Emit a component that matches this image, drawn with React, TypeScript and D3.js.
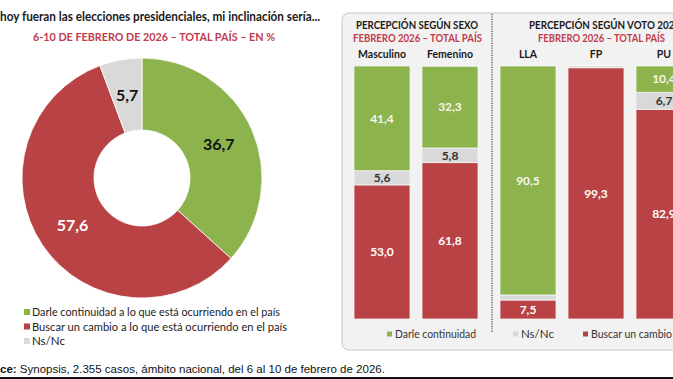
import React from "react";
import * as d3 from "d3";

const W = 673;
const H = 379;

const donutCategories = ["Darle continuidad a lo que está ocurriendo en el país", "Buscar un cambio a lo que está ocurriendo en el país", "Ns/Nc"];
const donutValues = [36.7, 57.6, 5.7];

const sexGroups = ["Masculino", "Femenino"];
const voteGroups = ["LLA", "FP", "PU"];
const seriesKeys = ["cambio", "nsnc", "continuidad"];
const continuidad = { Masculino: 41.4, Femenino: 32.3, LLA: 90.5, FP: 0, PU: 10.4 };
const nsnc = { Masculino: 5.6, Femenino: 5.8, LLA: 2.0, FP: 0.7, PU: 6.7 };
const cambio = { Masculino: 53.0, Femenino: 61.8, LLA: 7.5, FP: 99.3, PU: 82.9 };
const barLegend = ["Darle continuidad", "Ns/Nc", "Buscar un cambio"];

const GREEN = "#8db34d";
const RED = "#b94245";
const GRAY = "#d9d9d9";
const TITLE_RED = "#c23b4e";
const FONT = "Lato, 'Open Sans', sans-serif";

const colorOf: Record<string, string> = { continuidad: GREEN, nsnc: GRAY, cambio: RED };
const labelColorOf: Record<string, string> = { continuidad: "#f6f6ee", nsnc: "#333", cambio: "#fff" };

const fmt = (v: number) => v.toFixed(1).replace(".", ",");

export default function App() {
  const cx = 142, cy = 178, rIn = 48, rOut = 120;
  const pie = d3.pie<number>().sort(null).value((d) => d);
  const arcs = pie(donutValues);
  const arc = d3.arc<d3.PieArcDatum<number>>().innerRadius(rIn).outerRadius(rOut);
  const donutColors = [GREEN, RED, GRAY];
  const donutLabelColors = ["#111", "#fff", "#111"];
  const legendLens: (number | undefined)[] = [248, 255, undefined];

  const y = d3.scaleLinear().domain([0, 100]).range([319, 66]);
  const xSex = d3.scaleBand<string>().domain(sexGroups).range([348, 484]).paddingInner(12 / 68).paddingOuter(6 / 68);
  const xVote = d3.scaleBand<string>().domain(voteGroups).range([494, 698]).paddingInner(12 / 68).paddingOuter(6 / 68);

  const rows = [...sexGroups, ...voteGroups].map((g) => ({
    group: g,
    cambio: (cambio as any)[g],
    nsnc: (nsnc as any)[g],
    continuidad: (continuidad as any)[g],
  }));
  const stack = d3.stack<any>().keys(seriesKeys);
  const stacked = stack(rows);
  const xOf = (g: string) => (sexGroups.includes(g) ? xSex(g)! : xVote(g)!);
  const bw = xSex.bandwidth();

  return (
    <svg width={W} height={H} style={{ position: "absolute", left: 0, top: 0, background: "#fff" }} fontFamily={FONT}>
      <rect x={0} y={0} width={W} height={H} fill="#fff" />
      {/* Left title */}
      <text x={0} y={21} fontSize={12.5} fontWeight={700} fill="#1a1a1a" textLength={320} lengthAdjust="spacingAndGlyphs">hoy fueran las elecciones presidenciales, mi inclinación sería...</text>
      <text x={33} y={41} fontSize={11.5} fontWeight={700} fill={TITLE_RED} textLength={242} lengthAdjust="spacingAndGlyphs">6-10 DE FEBRERO DE 2026 – TOTAL PAÍS – EN %</text>

      {/* Donut */}
      <g transform={`translate(${cx},${cy})`}>
        {arcs.map((a, i) => (
          <path key={i} d={arc(a)!} fill={donutColors[i]} stroke="#fff" strokeWidth={0.8} />
        ))}
        {arcs.map((a, i) => {
          const [lx, ly] = arc.centroid(a);
          return (
            <text key={"l" + i} x={lx} y={ly} dy="0.35em" textAnchor="middle" fontSize={16} fontWeight={700} fill={donutLabelColors[i]}>
              {fmt(donutValues[i])}
            </text>
          );
        })}
      </g>

      {/* Left legend */}
      {donutCategories.map((c, i) => (
        <g key={c} transform={`translate(24,${312 + i * 14.5})`}>
          <rect x={0} y={-3} width={6} height={6} fill={donutColors[i]} />
          <text x={8} y={0} dy="0.35em" fontSize={11.5} fill="#222" textLength={legendLens[i]} lengthAdjust={legendLens[i] ? "spacingAndGlyphs" : undefined}>{c}</text>
        </g>
      ))}

      {/* Right panel */}
      <rect x={342} y={13} width={400} height={337} rx={7} fill="#f2f2f2" stroke="#c4c4c4" strokeWidth={1} />
      <line x1={492} x2={492} y1={14} y2={332} stroke="#444" strokeWidth={1.2} strokeDasharray="1.2,1.2" />

      <text x={356} y={29} fontSize={11} fontWeight={700} fill="#1a1a1a" textLength={122} lengthAdjust="spacingAndGlyphs">PERCEPCIÓN SEGÚN SEXO</text>
      <text x={353} y={42} fontSize={11} fontWeight={700} fill={TITLE_RED} textLength={129} lengthAdjust="spacingAndGlyphs">FEBRERO 2026 – TOTAL PAÍS</text>
      <text x={529} y={29} fontSize={11} fontWeight={700} fill="#1a1a1a" textLength={151} lengthAdjust="spacingAndGlyphs">PERCEPCIÓN SEGÚN VOTO 2023</text>
      <text x={538} y={42} fontSize={11} fontWeight={700} fill={TITLE_RED} textLength={127} lengthAdjust="spacingAndGlyphs">FEBRERO 2026 – TOTAL PAÍS</text>

      {[...sexGroups, ...voteGroups].map((g) => (
        <text key={g} x={xOf(g) + bw / 2} y={58} fontSize={10.5} fontWeight={700} fill="#1a1a1a" textAnchor="middle">{g}</text>
      ))}

      {stacked.map((s) => (
        <g key={s.key}>
          {s.map((d: any) => {
            const v = d[1] - d[0];
            if (v <= 0) return null;
            const y0 = y(d[0]);
            const y1 = y(d[1]);
            return (
              <rect key={d.data.group} x={xOf(d.data.group)} y={y1} width={bw} height={y0 - y1} fill={colorOf[s.key]} stroke="#f4f4f4" strokeWidth={0.8} />
            );
          })}
        </g>
      ))}
      {stacked.map((s) => (
        <g key={"t" + s.key}>
          {s.map((d: any) => {
            const v = d[1] - d[0];
            if (v < 5) return null;
            return (
              <text key={d.data.group} x={xOf(d.data.group) + bw / 2} y={(y(d[0]) + y(d[1])) / 2} dy="0.35em" textAnchor="middle" fontSize={12} fontWeight={700} fill={labelColorOf[s.key]}>
                {fmt(v)}
              </text>
            );
          })}
        </g>
      ))}

      {/* Bar legend */}
      {barLegend.map((t, i) => {
        const xs = [387, 513, 583];
        const lens: (number | undefined)[] = [81, undefined, 81];
        const cs = [GREEN, GRAY, RED];
        return (
          <g key={t} transform={`translate(${xs[i]},334)`}>
            <rect x={0} y={-2.5} width={5} height={5} fill={cs[i]} />
            <text x={8} y={0} dy="0.35em" fontSize={11.5} fill="#333" textLength={lens[i]} lengthAdjust={lens[i] ? "spacingAndGlyphs" : undefined}>{t}</text>
          </g>
        );
      })}

      {/* Footer */}
      <text x={0} y={373} fontSize={11.5} fontFamily="'Liberation Sans', Arial, sans-serif" fill="#111">
        <tspan fontWeight={700}>ce:</tspan> Synopsis, 2.355 casos, ámbito nacional, del 6 al 10 de febrero de 2026.
      </text>
      <rect x={0} y={377} width={W} height={2} fill="#111" />
    </svg>
  );
}
